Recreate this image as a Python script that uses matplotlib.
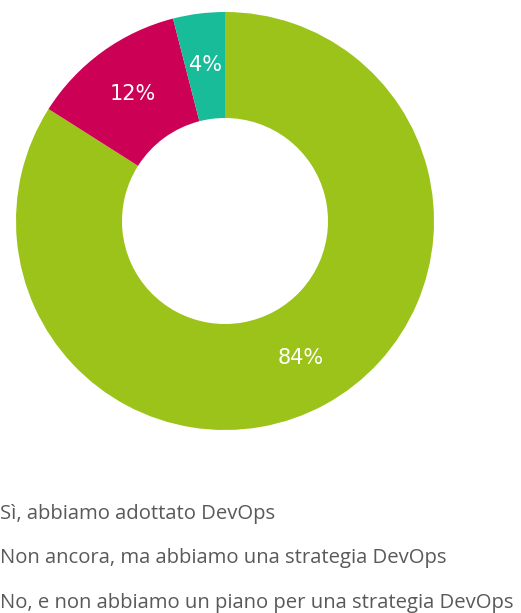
import matplotlib
matplotlib.use("Agg")
import matplotlib.pyplot as plt

categories = [
    "Sì, abbiamo adottato DevOps",
    "Non ancora, ma abbiamo una strategia DevOps",
    "No, e non abbiamo un piano per una strategia DevOps",
]
shares = [84, 12, 4]
colors = ["#9cc31a", "#cc0055", "#19bc98"]

W, H = 521, 613
fig = plt.figure(figsize=(W / 100, H / 100), dpi=100)
fig.patch.set_facecolor("white")

# donut: centre at (225, 221) px, outer radius 209 px
cx, cy, r = 225, 221, 209
ax = fig.add_axes([(cx - r) / W, (H - cy - r) / H, 2 * r / W, 2 * r / H])
wedges, texts, autotexts = ax.pie(
    shares,
    colors=colors,
    startangle=90,
    counterclock=False,
    radius=1.0,
    autopct="%d%%",
    pctdistance=0.75,
    wedgeprops=dict(width=1 - 103 / 209, linewidth=0),
    textprops=dict(color="white", fontsize=15, family="DejaVu Sans"),
)
ax.set_xlim(-1, 1)
ax.set_ylim(-1, 1)
ax.set_aspect("equal")
ax.axis("off")

# legend entries, markers sit off the left edge
for i, label in enumerate(categories):
    y = 519 + i * 44.3
    fig.text(0 / W, 1 - y / H, label, ha="left", va="baseline",
             fontsize=14.6, color="#595959", family="Open Sans")

fig.savefig("out.png", dpi=100)
